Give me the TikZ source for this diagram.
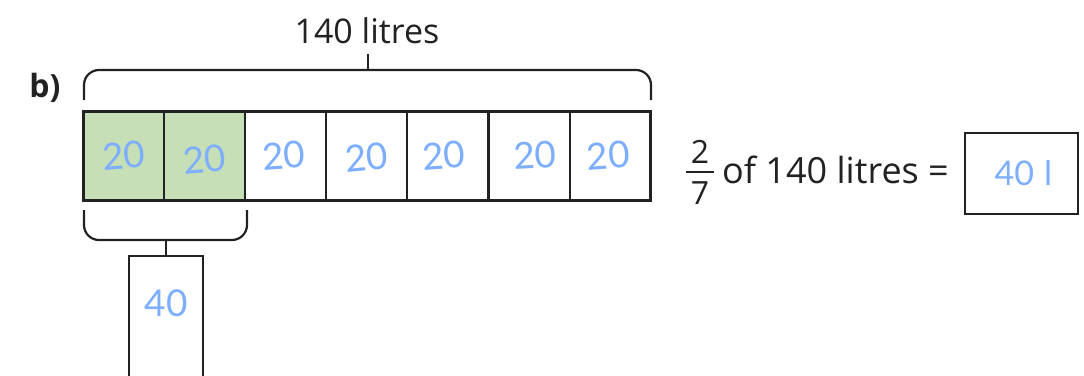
\documentclass[tikz,border=0pt]{standalone}
\usepackage{fontspec}
\setmainfont{Open Sans}
\newfontfamily\handfont{Lato}
\definecolor{ink}{HTML}{222222}
\definecolor{hand}{HTML}{7DAEFF}
\definecolor{shade}{HTML}{C7DFB6}
\begin{document}
\begin{tikzpicture}[x=1pt,y=-1pt,
  cell/.style={draw=ink,line width=2pt,minimum width=81pt,minimum height=89pt,inner sep=0pt,outer sep=0pt,anchor=north west},
  handtxt/.style={text=hand,font=\handfont\fontsize{37}{37}\selectfont,inner sep=0pt},
  brace/.style={draw=ink,line width=2.2pt,rounded corners=15pt},
  lbl/.style={text=ink,inner sep=0pt}]
\useasboundingbox (0,0) rectangle (1084,375);
% cells
\foreach \i/\f in {1/shade,2/shade,3/white,4/white,5/white,6/white,7/white}{
  \node[cell,fill=\f] (c\i) at ({83+(\i-1)*81.1},111) {};
}
\draw[ink,line width=3pt] (c1.north west) rectangle (c7.south east);
\foreach \i/\r/\dx/\dy in {1/4/0/0,2/5/0/4,3/4/-2/0,4/5/0/2,5/4/-4/0,6/3/6/0,7/4/-2/0}{
  \node[handtxt,rotate=\r] (h\i) at ([shift={(\dx,\dy)}]c\i.center) {20};
}
% top brace
\coordinate (tl) at (84,100);
\coordinate (tr) at (651,100);
\draw[brace] (tl) -- (84,70) -- (651,70) -- (tr);
\coordinate (tt) at (368,70);
\node[lbl,font=\fontsize{34}{34}\selectfont] (total) at (367,31) {140 litres};
\draw[ink,line width=2pt] (tt) -- (368,54);
% label b)
\node[lbl,font=\bfseries\fontsize{32}{32}\selectfont] (b) at (45,88) {b)};
% bottom brace
\coordinate (bl) at (84,210);
\coordinate (br) at (247,210);
\draw[brace] (bl) -- (84,240) -- (247,240) -- (br);
\coordinate (bt) at (166,240);
\node[draw=ink,line width=1.8pt,minimum width=74pt,minimum height=125pt,anchor=north,inner sep=0pt] (ans) at (166,255) {};
\draw[ink,line width=2pt] (bt) -- (ans.north);
\node[handtxt] (ansv) at (166,303) {40};
% right side
\node[lbl,font=\fontsize{32}{32}\selectfont] (num) at (700,152) {2};
\node[lbl,font=\fontsize{32}{32}\selectfont] (den) at (700,193) {7};
\draw[ink,line width=2pt] (686,172) -- (714,172);
\node[lbl,font=\fontsize{36}{36}\selectfont,anchor=west] (eq) at (722,170) {of 140 litres =};
\node[draw=ink,line width=1.8pt,minimum width=113pt,minimum height=81pt,anchor=north west,inner sep=0pt] (res) at (964,132) {};
\node[handtxt,font=\handfont\fontsize{34}{34}\selectfont] (resv) at ([xshift=2pt]res.center) {40\hspace{10pt}l};
\end{tikzpicture}
\end{document}
